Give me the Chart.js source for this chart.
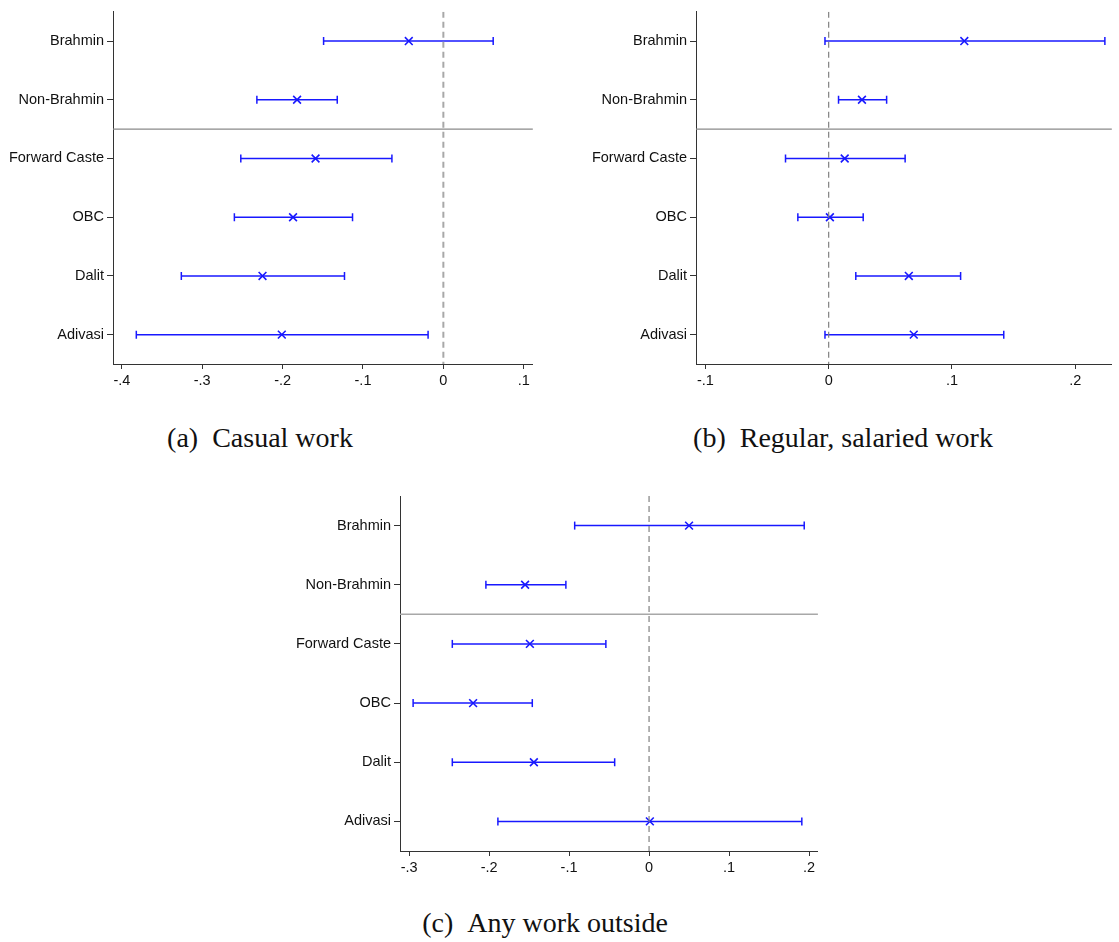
<!DOCTYPE html>
<html><head><meta charset="utf-8">
<script src="https://cdn.jsdelivr.net/npm/chart.js@4.4.1/dist/chart.umd.min.js"></script>
<style>
html,body{margin:0;padding:0;background:#fff;}
body{width:1119px;height:942px;position:relative;overflow:hidden;}
.pane{position:absolute;}
.cap{position:absolute;font-family:"Liberation Serif","Times New Roman",serif;font-size:28px;line-height:28px;color:#111;white-space:nowrap;transform:translateX(-50%);}
</style></head><body>
<div class="pane" style="left:0px;top:0px;width:540px;height:395px"><canvas id="ca"></canvas></div>
<div class="pane" style="left:560px;top:0px;width:559px;height:395px"><canvas id="cb"></canvas></div>
<div class="pane" style="left:280px;top:480px;width:545px;height:400px"><canvas id="cc"></canvas></div>
<div class="cap" style="left:260px;top:424px">(a)&nbsp;&nbsp;Casual work</div>
<div class="cap" style="left:843px;top:424px">(b)&nbsp;&nbsp;Regular, salaried work</div>
<div class="cap" style="left:545px;top:909px">(c)&nbsp;&nbsp;Any work outside</div>
<script>
const categories = ['Brahmin','Non-Brahmin','Forward Caste','OBC','Dalit','Adivasi'];

const casualEst = [-0.043,-0.182,-0.159,-0.187,-0.225,-0.201];
const casualLo  = [-0.149,-0.232,-0.252,-0.260,-0.326,-0.382];
const casualHi  = [ 0.062,-0.132,-0.064,-0.113,-0.123,-0.019];

const regularEst = [0.110,0.027,0.013,0.001,0.065,0.069];
const regularLo  = [-0.003,0.008,-0.035,-0.025,0.022,-0.003];
const regularHi  = [0.224,0.047,0.062,0.028,0.107,0.142];

const anyEst = [0.050,-0.155,-0.149,-0.220,-0.144,0.001];
const anyLo  = [-0.093,-0.204,-0.246,-0.295,-0.246,-0.189];
const anyHi  = [0.194,-0.104,-0.054,-0.146,-0.043,0.191];

const ticksCasual  = [-0.4,-0.3,-0.2,-0.1,0,0.1];
const ticksRegular = [-0.1,0,0.1,0.2];
const ticksAny     = [-0.3,-0.2,-0.1,0,0.1,0.2];

const separatorAfter = 2; // line between Non-Brahmin and Forward Caste

const BLUE = 'rgb(24,24,255)';
const LABEL_FONT = {family:'"Liberation Sans", Arial, Helvetica, sans-serif', size:14.5};

function fmt(v){
  if (Math.abs(v) < 1e-9) return '0';
  return v.toFixed(1).replace('0.', '.');
}

function makeChart(id, est, lo, hi, ticks, xmin, xmax, geo){
  const datasets = [];
  datasets.push({
    data:[{x:0,y:0.5},{x:0,y:categories.length+0.5}],
    showLine:true, borderColor:geo.zeroColor, borderWidth:geo.zeroWidth,
    borderDash:[6,4], pointRadius:0
  });
  datasets.push({
    data:[{x:xmin,y:separatorAfter+0.5},{x:xmax,y:separatorAfter+0.5}],
    showLine:true, borderColor:geo.sepColor, borderWidth:geo.sepWidth, pointRadius:0
  });
  categories.forEach((c,i)=>{
    datasets.push({
      data:[{x:lo[i],y:i+1},{x:hi[i],y:i+1}],
      showLine:true, borderColor:BLUE, borderWidth:1.5,
      pointStyle:'line', pointRotation:90, pointRadius:4,
      pointBorderColor:BLUE, pointBorderWidth:1.5, pointBackgroundColor:BLUE
    });
  });
  datasets.push({
    data: est.map((v,i)=>({x:v,y:i+1})),
    showLine:false, pointStyle:'crossRot', pointRadius:5.5,
    pointBorderColor:BLUE, pointBorderWidth:1.6, borderColor:BLUE
  });

  return new Chart(document.getElementById(id), {
    type:'scatter',
    data:{datasets},
    options:{
      responsive:true, maintainAspectRatio:false, animation:false, events:[],
      layout:{padding:{left:0, top:geo.top, right:geo.right, bottom:0}},
      plugins:{legend:{display:false}, tooltip:{enabled:false}},
      scales:{
        x:{
          type:'linear', min:xmin, max:xmax,
          afterBuildTicks:s=>{ s.ticks = ticks.map(v=>({value:v})); },
          afterFit:s=>{ s.height = geo.xh; },
          ticks:{callback:v=>fmt(v), font:LABEL_FONT, color:'#111', padding:3, maxRotation:0, autoSkip:false},
          grid:{display:true, drawOnChartArea:false, drawTicks:true, tickLength:5, color:'#333', lineWidth:1},
          border:{display:true, color:'#333', width:1}
        },
        y:{
          type:'linear', reverse:true, min:0.5, max:categories.length+0.5,
          afterBuildTicks:s=>{ s.ticks = categories.map((c,i)=>({value:i+1})); },
          afterFit:s=>{ s.width = geo.yw; },
          ticks:{callback:v=>categories[Math.round(v)-1], font:LABEL_FONT, color:'#111', padding:3, autoSkip:false},
          grid:{display:true, drawOnChartArea:false, drawTicks:true, tickLength:6, color:'#333', lineWidth:1},
          border:{display:true, color:'#333', width:1}
        }
      }
    }
  });
}

makeChart('ca', casualEst, casualLo, casualHi, ticksCasual, -0.411, 0.1114,
  {top:9, right:5, xh:31, yw:113, zeroColor:'#a8a8a8', zeroWidth:2, sepColor:'#8a8a8a', sepWidth:1.2});
makeChart('cb', regularEst, regularLo, regularHi, ticksRegular, -0.1076, 0.2297,
  {top:9, right:2, xh:31, yw:136, zeroColor:'#808080', zeroWidth:1.2, sepColor:'#8a8a8a', sepWidth:1.2});
makeChart('cc', anyEst, anyLo, anyHi, ticksAny, -0.3114, 0.2111,
  {top:16, right:3, xh:29, yw:120, zeroColor:'#808080', zeroWidth:1.2, sepColor:'#a8a8a8', sepWidth:1.5});
</script>
</body></html>
